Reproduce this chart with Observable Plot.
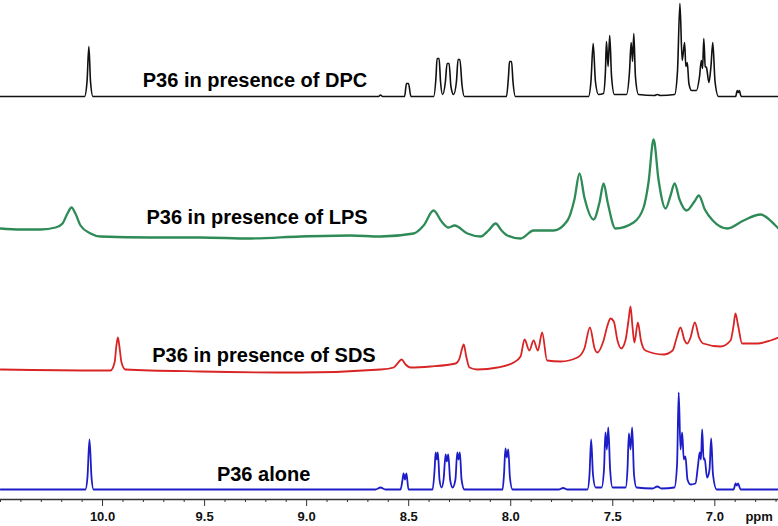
<!DOCTYPE html>
<html>
<head>
<meta charset="utf-8">
<script src="https://cdn.jsdelivr.net/npm/d3@7"></script>
<script src="https://cdn.jsdelivr.net/npm/@observablehq/plot@0.6"></script>
<style>
  html, body { margin: 0; padding: 0; background: #fff; }
  #chart svg { display: block; }
</style>
</head>
<body>
<div id="chart"></div>
<script>
// ---- Data: [chemical shift (ppm), intensity above the spectrum's own baseline] ----
const dpc = [
  [10.5,0],[10.088,0],[10.076,15],[10.067,50],[10.059,15],[10.047,0],
  [8.648,0],[8.638,1.5],[8.628,0],
  [8.520,0],[8.511,13],[8.501,13],[8.489,0],
  [8.378,0],[8.366,20],[8.361,38],[8.351,38],[8.344,15],[8.334,2],
  [8.320,15],[8.312,33],[8.302,33],[8.293,10],[8.280,2],
  [8.266,15],[8.258,37],[8.249,37],[8.239,12],[8.227,0],
  [8.021,0],[8.011,20],[8.006,35],[7.996,35],[7.989,15],[7.977,0],
  [7.619,0],[7.607,15],[7.596,53],[7.585,15],[7.570,2],
  [7.546,3],[7.536,25],[7.531,55],[7.523,30],[7.515,61],[7.506,20],[7.492,2],
  [7.433,2],[7.418,25],[7.410,54],[7.403,35],[7.397,63],[7.389,20],[7.374,2],
  [7.296,1],[7.282,2],[7.266,1],
  [7.197,2],[7.183,25],[7.171,93],[7.160,36],[7.148,54],[7.142,30],[7.135,34],[7.127,13],[7.114,6],
  [7.090,6],[7.075,20],[7.066,36],[7.060,28],[7.054,58],[7.047,30],[7.041,29],[7.029,14],
  [7.019,30],[7.010,54],[6.999,15],[6.982,0],
  [6.898,0],[6.890,6],[6.885,4],[6.880,6],[6.871,0],[6.688,0]
];
const lps = [
  [10.5,9],[10.402,8],[10.304,8],[10.230,10],[10.196,14],[10.172,24],[10.152,30],[10.133,24],
  [10.108,12],[10.059,4],[10.010,1],[9.765,0],[9.520,0],[9.275,-1],[9.030,1],[8.785,2],[8.638,1],
  [8.476,4],[8.427,12],[8.378,27],[8.339,16],[8.305,10],[8.275,12],[8.212,4],[8.148,1],
  [8.109,7],[8.074,14],[8.045,7],[8.016,2],[7.952,-1],[7.888,7],[7.790,7],[7.722,17],
  [7.688,38],[7.663,64],[7.639,40],[7.594,18],[7.565,35],[7.545,54],[7.525,35],[7.487,9],
  [7.398,15],[7.349,30],[7.325,55],[7.300,98],[7.276,58],[7.241,29],[7.217,42],[7.197,54],
  [7.173,38],[7.139,27],[7.100,36],[7.078,42],[7.049,28],[7.010,17],[6.938,9],[6.859,17],
  [6.776,23],[6.703,12],[6.688,9]
];
const sds = [
  [10.5,1],[10.010,0],[9.961,0],[9.941,8],[9.932,25],[9.925,33],[9.918,25],[9.907,8],[9.888,1],
  [9.520,-1],[9.030,-2],[8.638,1],[8.574,3],[8.555,7],[8.535,11],[8.515,6],[8.491,3],[8.393,4],
  [8.270,7],[8.251,12],[8.241,20],[8.230,26],[8.219,15],[8.202,3],[8.163,1],[8.065,3],[7.986,8],
  [7.952,14],[7.932,31],[7.909,20],[7.888,30],[7.867,20],[7.846,38],[7.822,10],[7.756,9],
  [7.673,13],[7.639,22],[7.612,43],[7.589,22],[7.576,18],[7.545,30],[7.526,45],[7.511,52],
  [7.495,49],[7.477,30],[7.459,22],[7.438,30],[7.423,50],[7.413,64],[7.404,45],[7.394,28],
  [7.377,48],[7.362,30],[7.340,20],[7.251,16],[7.207,20],[7.188,32],[7.168,43],[7.148,30],
  [7.135,27],[7.119,33],[7.098,48],[7.077,33],[7.057,27],[6.972,24],[6.923,30],[6.908,45],
  [6.899,57],[6.886,45],[6.866,27],[6.791,27],[6.727,30],[6.688,33]
];
const alone = [
  [10.5,0],[10.084,0],[10.074,12],[10.064,50],[10.054,12],[10.044,0],
  [8.663,0],[8.638,2],[8.614,0],
  [8.540,0],[8.530,10],[8.525,16],[8.518,10],[8.511,16],[8.501,0],
  [8.383,0],[8.373,20],[8.368,37],[8.362,30],[8.357,37],[8.349,10],[8.339,2],
  [8.329,10],[8.319,35],[8.313,28],[8.306,35],[8.297,10],[8.285,2],
  [8.271,10],[8.262,37],[8.256,30],[8.249,37],[8.241,10],[8.227,0],
  [8.040,0],[8.033,15],[8.026,41],[8.019,32],[8.012,40],[8.004,12],[7.991,0],
  [7.766,0],[7.743,1.5],[7.722,0],
  [7.624,0],[7.614,15],[7.606,50],[7.597,15],[7.584,2],
  [7.555,2],[7.543,20],[7.536,57],[7.529,40],[7.522,62],[7.513,20],[7.501,2],
  [7.437,2],[7.428,20],[7.421,56],[7.413,40],[7.405,62],[7.396,15],[7.384,2],
  [7.305,1],[7.282,3],[7.261,1],
  [7.198,2],[7.185,25],[7.177,97],[7.168,40],[7.160,57],[7.152,30],[7.144,33],[7.134,10],[7.119,5],
  [7.095,6],[7.082,25],[7.074,37],[7.068,30],[7.062,60],[7.055,30],[7.050,31],[7.038,12],
  [7.026,20],[7.018,51],[7.009,15],[6.991,0],
  [6.908,0],[6.898,6],[6.892,4],[6.886,6],[6.874,0],[6.688,0]
];

// Series metadata
const seriesNames  = ["P36 in presence of DPC", "P36 in presence of LPS", "P36 in presence of SDS", "P36 alone"];
const seriesData   = [dpc, lps, sds, alone];
const seriesColors = ["#111111", "#2e8b57", "#d82424", "#1c1cc8"];
const seriesWidths = [1.6, 2.3, 1.8, 1.8];
const stackOffsets = [403, 262, 129, 10];      // vertical stacking offset of each spectrum (intensity units)
const labelPpm     = [9.253, 9.243, 9.209, 9.211];
const labelRise    = [16, 20, 15, 15];

// Axis ticks
const majorTicks = [10.0, 9.5, 9.0, 8.5, 8.0, 7.5, 7.0];
const minorTicks = d3.range(67, 106).map(d => d / 10).filter(d => !majorTicks.includes(d));
const axisUnit = "ppm";
const axisUnitPpm = 6.783;

const rows = seriesData.flatMap((pts, i) =>
  pts.map(([ppm, v]) => ({series: seriesNames[i], ppm, y: v + stackOffsets[i], w: seriesWidths[i]}))
);
const labels = seriesNames.map((name, i) => ({name, ppm: labelPpm[i], y: stackOffsets[i] + labelRise[i]}));

const chart = Plot.plot({
  width: 778,
  height: 526,
  marginLeft: 0,
  marginRight: 0,
  marginTop: 0,
  marginBottom: 27,
  style: {fontFamily: "'Liberation Sans', Arial, sans-serif", background: "#fff"},
  x: {domain: [10.5, 6.688], label: null},
  y: {domain: [0, 499], axis: null},
  color: {domain: seriesNames, range: seriesColors},
  marks: [
    Plot.ruleY([0], {stroke: "#333", strokeWidth: 1.5}),
    Plot.axisX(minorTicks, {tickSize: 3, text: null, label: null, stroke: "#333"}),
    Plot.axisX(majorTicks, {
      tickSize: 7, tickPadding: 5, stroke: "#333", fill: "#111", label: null,
      tickFormat: d => d.toFixed(1), fontSize: 13, fontWeight: "bold"
    }),
    Plot.text([axisUnit], {
      x: () => axisUnitPpm, y: () => -17, text: d => d,
      fontSize: 13, fontWeight: "bold", fill: "#111", lineAnchor: "middle"
    }),
    Plot.line(rows, {
      x: "ppm", y: "y", z: "series", stroke: "series", strokeWidth: "w",
      curve: "monotone-x", strokeLinejoin: "round"
    }),
    Plot.text(labels, {
      x: "ppm", y: "y", text: "name",
      fontSize: 20, fontWeight: "bold", fill: "#000", lineAnchor: "middle"
    })
  ]
});
document.getElementById("chart").append(chart);
</script>
</body>
</html>
